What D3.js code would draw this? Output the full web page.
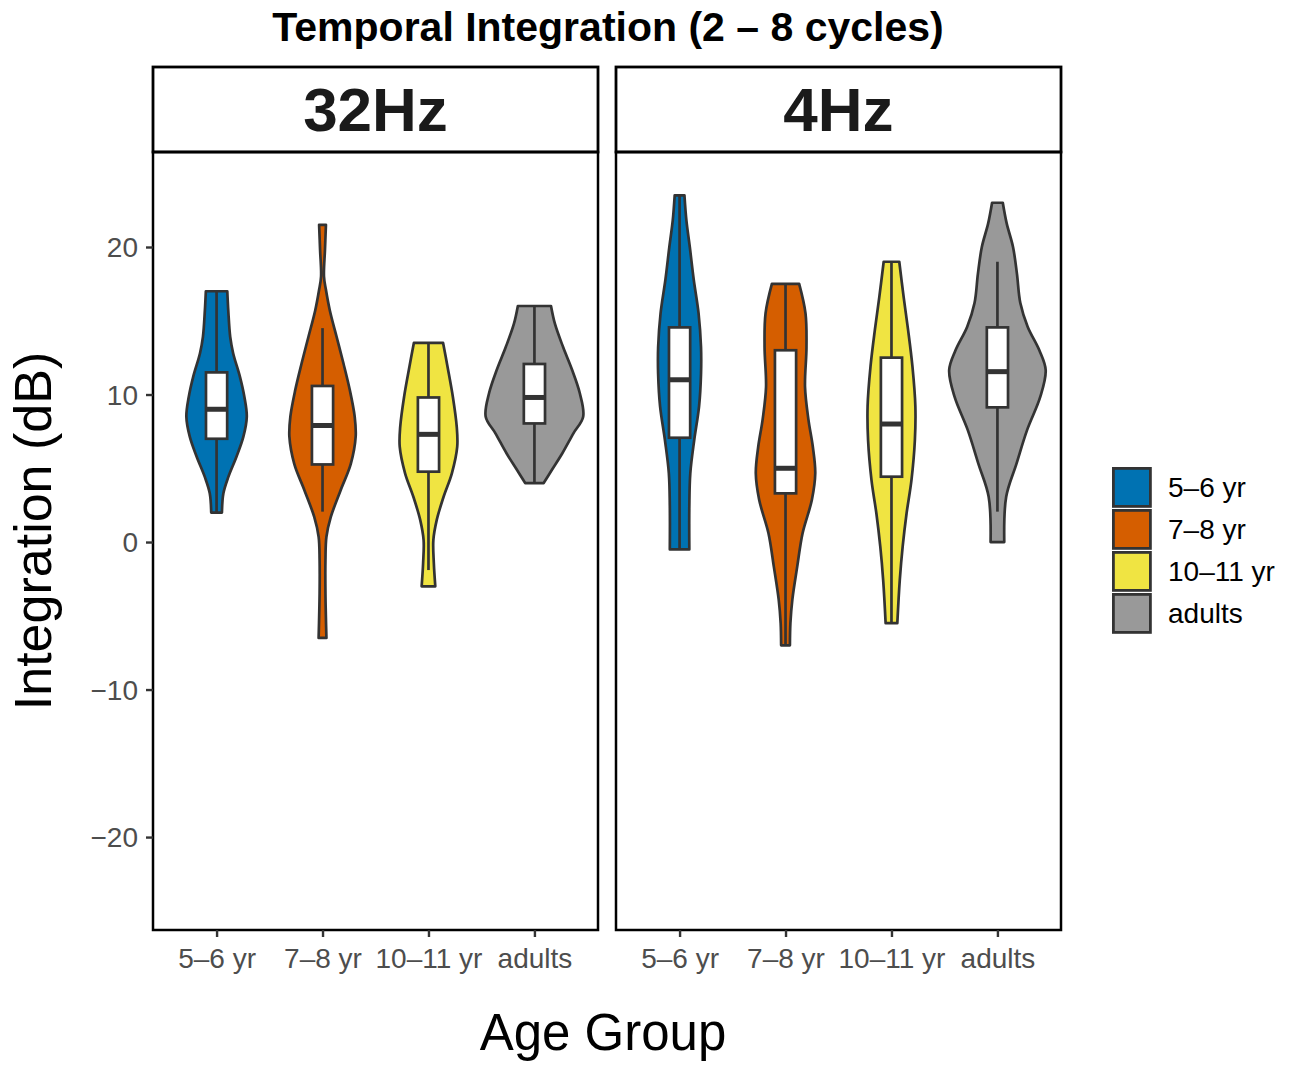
<!DOCTYPE html>
<html>
<head>
<meta charset="utf-8">
<script src="https://cdn.jsdelivr.net/npm/d3@7"></script>
<style>
  html, body { margin: 0; padding: 0; background: #fff; }
  text { font-family: "Liberation Sans", Arial, Helvetica, sans-serif; }
</style>
</head>
<body>
<svg id="chart" width="1295" height="1066"></svg>
<script>
// ---------------- data ----------------
const title = "Temporal Integration (2 \u2013 8 cycles)";
const facets = ["32Hz", "4Hz"];
const categories = ["5\u20136 yr", "7\u20138 yr", "10\u201311 yr", "adults"];
const fillColors = ["#0072B2", "#D55E00", "#F0E442", "#999999"];
const yTicks = [-20, -10, 0, 10, 20];

// violin profiles: [value (dB), relative density]
const violin32_5_6 = [[17,0.22],[15.7,0.24],[13.9,0.28],[12.8,0.34],[11.2,0.48],[9.85,0.57],[8.5,0.62],[7.14,0.55],[5.8,0.41],[4.4,0.24],[3.3,0.14],[2,0.11]];
const violin32_7_8 = [[21.5,0.07],[19.8,0.05],[18,0.03],[17.1,0.07],[15.7,0.15],[13.9,0.29],[12.1,0.43],[10.3,0.56],[8.5,0.66],[7.14,0.68],[5.3,0.58],[3.5,0.37],[1.7,0.17],[0.36,0.08],[-1.2,0.06],[-3.5,0.06],[-6.5,0.08]];
const violin32_10_11 = [[13.5,0.30],[11.9,0.39],[9.85,0.50],[7.8,0.58],[6.46,0.59],[4.66,0.48],[3.07,0.31],[1.5,0.17],[0.13,0.10],[-1.44,0.11],[-3,0.14]];
const violin32_adults = [[16,0.34],[14.8,0.42],[13.2,0.59],[11.7,0.77],[10.1,0.93],[8.5,1.0],[7.37,0.80],[6,0.57],[4.9,0.36],[4,0.19]];
const violin4_5_6 = [[23.5,0.10],[21.8,0.14],[20,0.21],[17.8,0.29],[15.5,0.39],[13.2,0.44],[11.4,0.44],[9.2,0.40],[6.9,0.30],[4.66,0.22],[2.4,0.20],[-0.5,0.20]];
const violin4_7_8 = [[17.5,0.28],[15.5,0.41],[13.2,0.43],[10.5,0.40],[8.3,0.47],[6.46,0.56],[4.66,0.61],[2.85,0.54],[0.6,0.35],[-1.67,0.24],[-3.9,0.14],[-5.5,0.10],[-7,0.09]];
const violin4_10_11 = [[19,0.16],[16.6,0.25],[14.4,0.34],[11.9,0.43],[9.2,0.49],[6.9,0.48],[4.2,0.41],[1.95,0.31],[-0.3,0.23],[-2.6,0.17],[-5.5,0.12]];
const violin4_adults = [[23,0.11],[21.6,0.19],[20,0.32],[18.2,0.40],[16.2,0.47],[14.6,0.62],[13,0.86],[11.66,0.99],[9.85,0.88],[7.6,0.61],[5.3,0.39],[3.07,0.18],[0,0.14]];

// box stats: [q1, median, q3, whisker low, whisker high]
const box32 = [[7.0, 9.0, 11.5, 2, 17], [5.26, 7.9, 10.58, 2.06, 14.5], [4.77, 7.3, 9.8, -1.9, 13.5], [8.04, 9.8, 12.07, 4, 16]];
const box4  = [[7.07, 11.0, 14.55, -0.5, 23.5], [3.3, 5.0, 13.0, -7, 17.5], [4.43, 8.0, 12.5, -5.5, 19], [9.13, 11.55, 14.55, 2.06, 19]];

const violins = [
  [violin32_5_6, violin32_7_8, violin32_10_11, violin32_adults],
  [violin4_5_6, violin4_7_8, violin4_10_11, violin4_adults]
];
const boxes = [box32, box4];

// ---------------- layout ----------------
const svg = d3.select("#chart");
const panelX = [153, 616];
const panelW = 445;
const stripTop = 67, plotTop = 152, plotBottom = 930;
const ink = "#333333";
const lw = 2.7;

const y = d3.scaleLinear().domain([-26.3, 26.44]).range([plotBottom, plotTop]);
const x = d3.scalePoint().domain(categories).range([0, panelW]).padding(0.6);
const step = x.step();
const wScale = d3.scaleLinear().domain([0, 1]).range([0, step * 0.46]);
const boxHalf = step * 0.1;
const fmt = d => d < 0 ? "\u2212" + Math.abs(d) : String(d);

// title
svg.append("text").attr("x", 608).attr("y", 41).attr("text-anchor", "middle")
  .attr("font-size", 41).attr("font-weight", "bold").attr("fill", "#000").text(title);

facets.forEach((f, fi) => {
  const g = svg.append("g").attr("transform", `translate(${panelX[fi]},0)`);

  // strip
  g.append("rect").attr("x", 0).attr("y", stripTop).attr("width", panelW).attr("height", plotTop - stripTop)
    .attr("fill", "#fff").attr("stroke", "#000").attr("stroke-width", 2.8);
  g.append("text").attr("x", panelW / 2).attr("y", 131).attr("text-anchor", "middle")
    .attr("font-size", 62).attr("font-weight", "bold").attr("fill", "#1a1a1a").text(f);

  // violins + boxes
  categories.forEach((c, ci) => {
    const cx = x(c);
    const prof = violins[fi][ci];
    const area = d3.area()
      .y(d => y(d[0]))
      .x0(d => cx - wScale(d[1]))
      .x1(d => cx + wScale(d[1]))
      .curve(d3.curveCatmullRom.alpha(0.5));
    g.append("path").datum(prof).attr("d", area)
      .attr("fill", fillColors[ci]).attr("stroke", ink).attr("stroke-width", lw).attr("stroke-linejoin", "round");

    const b = boxes[fi][ci];
    g.append("line").attr("x1", cx).attr("x2", cx).attr("y1", y(b[3])).attr("y2", y(b[4]))
      .attr("stroke", ink).attr("stroke-width", lw);
    g.append("rect").attr("x", cx - boxHalf).attr("width", boxHalf * 2)
      .attr("y", y(b[2])).attr("height", y(b[0]) - y(b[2]))
      .attr("fill", "#fff").attr("stroke", ink).attr("stroke-width", lw);
    g.append("line").attr("x1", cx - boxHalf).attr("x2", cx + boxHalf).attr("y1", y(b[1])).attr("y2", y(b[1]))
      .attr("stroke", ink).attr("stroke-width", 5);
  });

  // panel border
  g.append("rect").attr("x", 0).attr("y", plotTop).attr("width", panelW).attr("height", plotBottom - plotTop)
    .attr("fill", "none").attr("stroke", "#000").attr("stroke-width", 2.5);

  // x axis
  const xa = g.append("g").attr("transform", `translate(0,${plotBottom})`)
    .call(d3.axisBottom(x).tickSize(7).tickPadding(8));
  xa.select(".domain").remove();
  xa.selectAll(".tick line").attr("stroke", ink).attr("stroke-width", 2.4);
  xa.selectAll(".tick text").attr("font-size", 28).attr("fill", "#4d4d4d")
    .attr("font-family", "Liberation Sans, Arial, sans-serif").attr("dy", "0").attr("y", 38);

  if (fi === 0) {
    const ya = g.append("g").call(d3.axisLeft(y).tickValues(yTicks).tickFormat(fmt).tickSize(7).tickPadding(8));
    ya.select(".domain").remove();
    ya.selectAll(".tick line").attr("stroke", ink).attr("stroke-width", 2.4);
    ya.selectAll(".tick text").attr("font-size", 28).attr("fill", "#4d4d4d")
      .attr("font-family", "Liberation Sans, Arial, sans-serif").attr("dy", "0.35em");
  }
});

// axis titles
svg.append("text").attr("x", 603).attr("y", 1050).attr("text-anchor", "middle")
  .attr("font-size", 51).attr("fill", "#000").text("Age Group");
svg.append("text").attr("transform", "translate(51,531) rotate(-90)").attr("text-anchor", "middle")
  .attr("font-size", 52).attr("fill", "#000").text("Integration (dB)");

// legend
const leg = svg.append("g").attr("transform", "translate(1112,467)");
categories.forEach((c, i) => {
  const gy = i * 42;
  leg.append("rect").attr("x", 1.4).attr("y", gy + 1.4).attr("width", 37).attr("height", 38)
    .attr("fill", fillColors[i]).attr("stroke", ink).attr("stroke-width", 2.8);
  leg.append("text").attr("x", 56).attr("y", gy + 30).attr("font-size", 28).attr("fill", "#000").text(c);
});
</script>
</body>
</html>
